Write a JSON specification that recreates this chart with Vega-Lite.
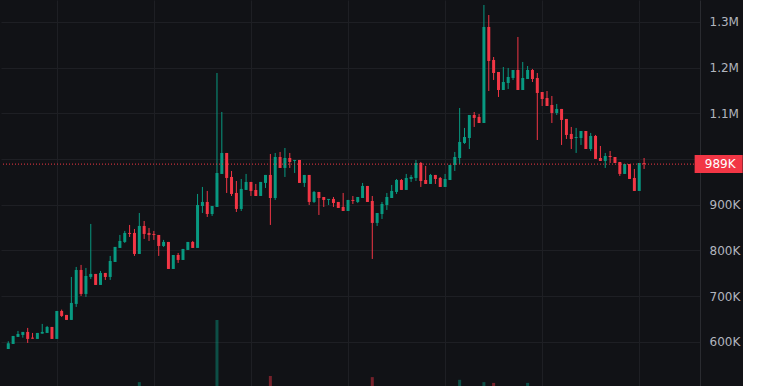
{
  "$schema": "https://vega.github.io/schema/vega-lite/v6.json",
  "width": 699,
  "height": 386,
  "padding": 0,
  "autosize": {"type": "pad"},
  "background": "#111216",
  "config": {"view": {"stroke": null}},
  "datasets": {
    "candles": [
      {"t":1,"o":584.6,"h":601.4,"l":584.6,"c":597.1},
      {"t":2,"o":595.5,"h":613.0,"l":595.5,"c":613.0},
      {"t":3,"o":610.9,"h":624.0,"l":610.9,"c":617.4},
      {"t":4,"o":615.2,"h":621.8,"l":609.3,"c":621.8},
      {"t":5,"o":621.8,"h":630.6,"l":597.7,"c":606.5},
      {"t":6,"o":609.3,"h":619.6,"l":607.1,"c":607.1},
      {"t":7,"o":606.5,"h":619.6,"l":606.5,"c":619.6},
      {"t":8,"o":618.1,"h":639.3,"l":618.1,"c":621.8},
      {"t":9,"o":619.6,"h":634.9,"l":619.6,"c":632.7},
      {"t":10,"o":632.7,"h":632.7,"l":606.5,"c":606.5},
      {"t":11,"o":606.5,"h":667.7,"l":606.5,"c":667.7},
      {"t":12,"o":667.7,"h":670.6,"l":654.6,"c":656.8},
      {"t":13,"o":659.0,"h":659.0,"l":648.1,"c":648.1},
      {"t":14,"o":648.1,"h":742.1,"l":648.1,"c":685.3},
      {"t":15,"o":683.1,"h":764.0,"l":676.5,"c":757.4},
      {"t":16,"o":757.4,"h":768.4,"l":700.5,"c":704.9},
      {"t":17,"o":704.9,"h":761.8,"l":698.4,"c":744.3},
      {"t":18,"o":742.1,"h":858.1,"l":737.8,"c":748.7},
      {"t":19,"o":748.7,"h":748.7,"l":724.6,"c":724.6},
      {"t":20,"o":724.6,"h":755.2,"l":724.6,"c":750.9},
      {"t":21,"o":750.9,"h":750.9,"l":735.6,"c":742.1},
      {"t":22,"o":742.1,"h":788.1,"l":735.6,"c":777.1},
      {"t":23,"o":774.9,"h":807.8,"l":774.9,"c":807.8},
      {"t":24,"o":805.6,"h":834.0,"l":805.6,"c":820.9},
      {"t":25,"o":818.7,"h":842.8,"l":816.5,"c":838.4},
      {"t":26,"o":838.4,"h":855.9,"l":829.6,"c":836.2},
      {"t":27,"o":838.4,"h":847.1,"l":788.1,"c":792.4},
      {"t":28,"o":792.4,"h":882.1,"l":792.4,"c":853.7,"vol":1.0},
      {"t":29,"o":853.7,"h":864.6,"l":825.3,"c":836.2},
      {"t":30,"o":838.4,"h":849.3,"l":820.9,"c":834.0},
      {"t":31,"o":836.2,"h":842.8,"l":823.1,"c":834.0},
      {"t":32,"o":834.0,"h":834.0,"l":788.1,"c":809.9},
      {"t":33,"o":809.9,"h":823.1,"l":807.8,"c":818.7},
      {"t":34,"o":818.7,"h":818.7,"l":759.6,"c":759.6},
      {"t":35,"o":759.6,"h":790.2,"l":759.6,"c":790.2},
      {"t":36,"o":790.2,"h":794.6,"l":772.8,"c":779.3},
      {"t":37,"o":779.3,"h":803.4,"l":779.3,"c":803.4},
      {"t":38,"o":801.2,"h":818.7,"l":801.2,"c":818.7},
      {"t":39,"o":818.7,"h":820.9,"l":805.6,"c":805.6},
      {"t":40,"o":805.6,"h":923.7,"l":805.6,"c":899.6},
      {"t":41,"o":897.4,"h":939.0,"l":882.1,"c":906.2},
      {"t":42,"o":906.2,"h":930.3,"l":873.4,"c":879.9},
      {"t":43,"o":879.9,"h":897.4,"l":875.6,"c":897.4},
      {"t":44,"o":895.3,"h":1188.4,"l":895.3,"c":969.6,"vol":17.1},
      {"t":45,"o":967.5,"h":1103.1,"l":967.5,"c":1013.4},
      {"t":46,"o":1013.4,"h":1013.4,"l":925.9,"c":958.7},
      {"t":47,"o":960.9,"h":974.0,"l":919.3,"c":923.7},
      {"t":48,"o":925.9,"h":952.1,"l":884.3,"c":890.9},
      {"t":49,"o":890.9,"h":956.5,"l":886.5,"c":934.7},
      {"t":50,"o":932.5,"h":967.5,"l":932.5,"c":950.0},
      {"t":51,"o":950.0,"h":950.0,"l":919.3,"c":930.3},
      {"t":52,"o":932.5,"h":945.6,"l":919.3,"c":919.3},
      {"t":53,"o":919.3,"h":950.0,"l":919.3,"c":950.0},
      {"t":54,"o":947.8,"h":965.3,"l":936.8,"c":965.3},
      {"t":55,"o":965.3,"h":1011.2,"l":855.9,"c":914.9,"vol":2.6},
      {"t":56,"o":914.9,"h":1013.4,"l":910.6,"c":1004.6},
      {"t":57,"o":1004.6,"h":1015.6,"l":980.6,"c":980.6},
      {"t":58,"o":980.6,"h":1024.3,"l":960.9,"c":1002.4},
      {"t":59,"o":1002.4,"h":1013.4,"l":980.6,"c":993.7},
      {"t":60,"o":995.9,"h":998.1,"l":969.6,"c":998.1},
      {"t":61,"o":998.1,"h":998.1,"l":947.8,"c":947.8},
      {"t":62,"o":947.8,"h":965.3,"l":939.0,"c":965.3},
      {"t":63,"o":965.3,"h":965.3,"l":899.6,"c":906.2},
      {"t":64,"o":906.2,"h":930.3,"l":904.0,"c":928.1},
      {"t":65,"o":928.1,"h":928.1,"l":877.7,"c":914.9},
      {"t":66,"o":917.1,"h":917.1,"l":895.3,"c":910.6},
      {"t":67,"o":910.6,"h":912.8,"l":899.6,"c":912.8},
      {"t":68,"o":912.8,"h":917.1,"l":895.3,"c":904.0},
      {"t":69,"o":906.2,"h":906.2,"l":893.1,"c":893.1},
      {"t":70,"o":895.3,"h":925.9,"l":886.5,"c":886.5},
      {"t":71,"o":886.5,"h":910.6,"l":886.5,"c":910.6},
      {"t":72,"o":910.6,"h":919.3,"l":901.8,"c":908.4},
      {"t":73,"o":906.2,"h":917.1,"l":904.0,"c":917.1},
      {"t":74,"o":914.9,"h":947.8,"l":914.9,"c":941.2},
      {"t":75,"o":941.2,"h":941.2,"l":906.2,"c":906.2},
      {"t":76,"o":908.4,"h":919.3,"l":781.5,"c":860.3,"vol":2.3},
      {"t":77,"o":860.3,"h":882.1,"l":853.7,"c":882.1},
      {"t":78,"o":879.9,"h":906.2,"l":869.0,"c":901.8},
      {"t":79,"o":899.6,"h":925.9,"l":888.7,"c":917.1},
      {"t":80,"o":914.9,"h":943.4,"l":914.9,"c":930.3},
      {"t":81,"o":928.1,"h":956.5,"l":923.7,"c":954.3},
      {"t":82,"o":954.3,"h":956.5,"l":932.5,"c":932.5},
      {"t":83,"o":932.5,"h":967.5,"l":932.5,"c":958.7},
      {"t":84,"o":956.5,"h":965.3,"l":950.0,"c":960.9},
      {"t":85,"o":958.7,"h":998.1,"l":952.1,"c":991.5},
      {"t":86,"o":991.5,"h":993.7,"l":939.0,"c":952.1},
      {"t":87,"o":954.3,"h":985.0,"l":945.6,"c":945.6},
      {"t":88,"o":945.6,"h":967.5,"l":945.6,"c":965.3},
      {"t":89,"o":965.3,"h":965.3,"l":945.6,"c":956.5},
      {"t":90,"o":958.7,"h":960.9,"l":939.0,"c":939.0},
      {"t":91,"o":939.0,"h":967.5,"l":939.0,"c":956.5},
      {"t":92,"o":954.3,"h":987.2,"l":954.3,"c":987.2},
      {"t":93,"o":987.2,"h":1015.6,"l":974.0,"c":1004.6},
      {"t":94,"o":1002.4,"h":1111.8,"l":989.3,"c":1037.5,"vol":1.6},
      {"t":95,"o":1035.3,"h":1068.1,"l":1033.1,"c":1048.4},
      {"t":96,"o":1046.2,"h":1096.5,"l":1022.1,"c":1096.5},
      {"t":97,"o":1096.5,"h":1103.1,"l":1070.3,"c":1090.0},
      {"t":98,"o":1092.2,"h":1098.7,"l":1079.0,"c":1079.0},
      {"t":99,"o":1079.0,"h":1337.2,"l":1079.0,"c":1289.1,"vol":1.0},
      {"t":100,"o":1289.1,"h":1315.3,"l":1149.0,"c":1214.7},
      {"t":101,"o":1216.9,"h":1223.4,"l":1173.1,"c":1188.4,"vol":0.8},
      {"t":102,"o":1190.6,"h":1190.6,"l":1135.9,"c":1151.2},
      {"t":103,"o":1151.2,"h":1201.5,"l":1151.2,"c":1168.7},
      {"t":104,"o":1166.5,"h":1199.4,"l":1153.4,"c":1179.7},
      {"t":105,"o":1177.5,"h":1195.0,"l":1173.1,"c":1195.0},
      {"t":106,"o":1195.0,"h":1267.2,"l":1151.2,"c":1151.2},
      {"t":107,"o":1151.2,"h":1212.5,"l":1151.2,"c":1177.5},
      {"t":108,"o":1175.3,"h":1203.7,"l":1175.3,"c":1195.0,"vol":0.8},
      {"t":109,"o":1195.0,"h":1197.2,"l":1168.7,"c":1175.3},
      {"t":110,"o":1177.5,"h":1188.4,"l":1041.8,"c":1144.7},
      {"t":111,"o":1146.8,"h":1146.8,"l":1116.2,"c":1131.5},
      {"t":112,"o":1133.7,"h":1149.0,"l":1116.2,"c":1116.2},
      {"t":113,"o":1118.4,"h":1138.1,"l":1079.0,"c":1100.9},
      {"t":114,"o":1100.9,"h":1120.6,"l":1096.5,"c":1109.7},
      {"t":115,"o":1109.7,"h":1109.7,"l":1030.9,"c":1085.6},
      {"t":116,"o":1087.8,"h":1087.8,"l":1044.0,"c":1052.8},
      {"t":117,"o":1055.0,"h":1070.3,"l":1022.1,"c":1044.0},
      {"t":118,"o":1046.2,"h":1068.1,"l":1013.4,"c":1048.4},
      {"t":119,"o":1046.2,"h":1061.5,"l":1030.9,"c":1061.5},
      {"t":120,"o":1061.5,"h":1061.5,"l":1022.1,"c":1022.1},
      {"t":121,"o":1022.1,"h":1057.2,"l":1017.8,"c":1050.6},
      {"t":122,"o":1050.6,"h":1052.8,"l":1000.3,"c":1000.3},
      {"t":123,"o":1002.4,"h":1028.7,"l":995.9,"c":995.9},
      {"t":124,"o":995.9,"h":1013.4,"l":980.6,"c":1006.8},
      {"t":125,"o":1006.8,"h":1017.8,"l":991.5,"c":1004.6},
      {"t":126,"o":1004.6,"h":1004.6,"l":991.5,"c":991.5},
      {"t":127,"o":993.7,"h":993.7,"l":963.1,"c":967.5},
      {"t":128,"o":967.5,"h":989.3,"l":967.5,"c":989.3},
      {"t":129,"o":989.3,"h":989.3,"l":956.5,"c":956.5},
      {"t":130,"o":958.7,"h":978.4,"l":930.3,"c":930.3},
      {"t":131,"o":930.3,"h":991.5,"l":930.3,"c":991.5},
      {"t":132,"o":991.0,"h":1002.4,"l":978.4,"c":989.0}
    ],
    "last": [{"price": 989, "label": "989K"}]
  },
  "resolve": {"scale": {"y": "independent"}},
  "layer": [
    {
      "data": {"name": "candles"},
      "transform": [{"filter": "isValid(datum.vol)"}],
      "mark": {"type": "bar", "size": 3, "opacity": 0.45},
      "encoding": {
        "x": {"field": "t", "type": "quantitative", "scale": {"domain": [0.533, 142.49], "nice": false, "zero": false},
              "axis": {"values": [11, 31, 51, 71, 91, 111, 131], "grid": true, "gridColor": "#1e1f24", "labels": false, "ticks": false, "domain": false, "title": null}},
        "y": {"field": "vol", "type": "quantitative", "scale": {"domain": [0, 100], "nice": false}, "axis": null},
        "color": {"condition": {"test": "datum.c >= datum.o", "value": "#089981"}, "value": "#f23645"}
      }
    },
    {
      "layer": [
        {
          "data": {"name": "candles"},
          "mark": {"type": "rule", "strokeWidth": 1},
          "encoding": {
            "x": {"field": "t", "type": "quantitative",
                  "axis": {"values": [11, 31, 51, 71, 91, 111, 131], "grid": true, "gridColor": "#1e1f24", "labels": false, "ticks": false, "domain": false, "title": null}},
            "y": {"field": "l", "type": "quantitative", "scale": {"domain": [503.5, 1348.1], "nice": false, "zero": false},
                  "axis": {"orient": "right", "values": [600, 700, 800, 900, 1000, 1100, 1200, 1300],
                           "labelExpr": "datum.value >= 1000 ? format(datum.value / 1000, '.2~f') + 'M' : datum.value + 'K'",
                           "grid": true, "gridColor": "#1e1f24", "ticks": false, "labelPadding": 9,
                           "domain": true, "domainColor": "#2a2b30", "labelColor": "#b2b5be",
                           "labelFont": "DejaVu Sans", "labelFontSize": 12, "title": null}},
            "y2": {"field": "h"},
            "color": {"condition": {"test": "datum.c >= datum.o", "value": "#089981"}, "value": "#f23645"}
          }
        },
        {
          "data": {"name": "candles"},
          "mark": {"type": "bar", "size": 3},
          "encoding": {
            "x": {"field": "t", "type": "quantitative"},
            "y": {"field": "o", "type": "quantitative"},
            "y2": {"field": "c"},
            "color": {"condition": {"test": "datum.c >= datum.o", "value": "#089981"}, "value": "#f23645"}
          }
        },
        {
          "data": {"name": "last"},
          "mark": {"type": "rule", "strokeDash": [1, 2], "color": "#f23645", "strokeWidth": 1},
          "encoding": {"y": {"field": "price", "type": "quantitative"}}
        },
        {
          "data": {"name": "last"},
          "mark": {"type": "tick", "orient": "horizontal", "size": 48, "thickness": 18, "color": "#f23645", "opacity": 1},
          "encoding": {
            "x": {"datum": 147.36, "type": "quantitative"},
            "y": {"field": "price", "type": "quantitative"}
          }
        },
        {
          "data": {"name": "last"},
          "mark": {"type": "text", "align": "left", "baseline": "middle", "color": "#ffffff", "font": "DejaVu Sans", "fontSize": 12},
          "encoding": {
            "x": {"datum": 144.5, "type": "quantitative"},
            "y": {"field": "price", "type": "quantitative"},
            "text": {"field": "label"}
          }
        }
      ]
    }
  ]
}
